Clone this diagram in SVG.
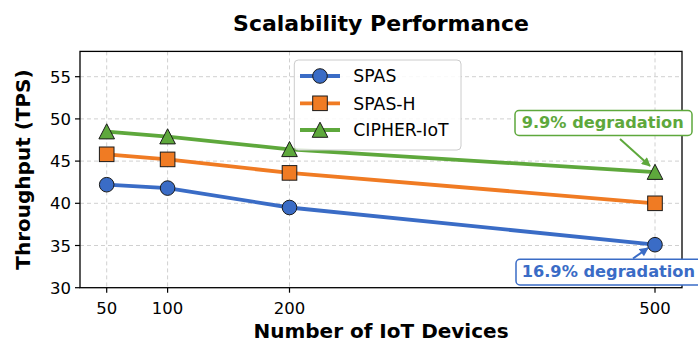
<svg xmlns="http://www.w3.org/2000/svg" width="698" height="344" viewBox="0 0 698 344">
<style>
text{font-family:"DejaVu Sans","Liberation Sans",sans-serif;fill:#000}
.t{font-weight:bold}
.tick{font-size:16.5px}
.grid line{stroke:#d0d0d0;stroke-width:1;stroke-dasharray:4,3}
.spine{fill:none;stroke:#000;stroke-width:1.3}
.tk line{stroke:#000;stroke-width:1.2}
.ln{fill:none;stroke-width:3.8;stroke-linejoin:round;stroke-linecap:round}
.mk{stroke:#1a1a1a;stroke-width:1}
.leg{font-size:17.3px}
.ann{font-size:16.2px;font-weight:bold}
</style>
<defs>
<circle id="mc" r="7.3" class="mk" />
<rect id="ms" x="-7.3" y="-7.3" width="14.6" height="14.6" class="mk"/>
<path id="mt" d="M0,-7.8 L7.8,7.3 L-7.8,7.3 Z" class="mk"/>
<marker id="ag" viewBox="0 0 10 10" refX="9" refY="5" markerWidth="10" markerHeight="9" orient="auto" markerUnits="userSpaceOnUse"><path d="M0,0 L10,5 L0,10 Z" fill="#5ea83c"/></marker>
<marker id="ab" viewBox="0 0 10 10" refX="9" refY="5" markerWidth="10" markerHeight="9" orient="auto" markerUnits="userSpaceOnUse"><path d="M0,0 L10,5 L0,10 Z" fill="#3a6cc6"/></marker>
</defs>
<rect width="698" height="344" fill="#fff"/>
<text class="t" x="381" y="31" font-size="22" text-anchor="middle">Scalability Performance</text>
<g class="grid">
<line x1="80" y1="76.7" x2="682" y2="76.7"/>
<line x1="80" y1="118.9" x2="682" y2="118.9"/>
<line x1="80" y1="161.1" x2="682" y2="161.1"/>
<line x1="80" y1="203.3" x2="682" y2="203.3"/>
<line x1="80" y1="245.5" x2="682" y2="245.5"/>
<line x1="106.7" y1="51.4" x2="106.7" y2="287.7"/>
<line x1="167.6" y1="51.4" x2="167.6" y2="287.7"/>
<line x1="289.5" y1="51.4" x2="289.5" y2="287.7"/>
<line x1="655" y1="51.4" x2="655" y2="287.7"/>
</g>
<rect class="spine" x="80" y="51.4" width="602" height="236.3"/>
<g class="tk">
<line x1="75" y1="76.7" x2="80" y2="76.7"/>
<line x1="75" y1="118.9" x2="80" y2="118.9"/>
<line x1="75" y1="161.1" x2="80" y2="161.1"/>
<line x1="75" y1="203.3" x2="80" y2="203.3"/>
<line x1="75" y1="245.5" x2="80" y2="245.5"/>
<line x1="75" y1="287.7" x2="80" y2="287.7"/>
<line x1="106.7" y1="287.7" x2="106.7" y2="292.7"/>
<line x1="167.6" y1="287.7" x2="167.6" y2="292.7"/>
<line x1="289.5" y1="287.7" x2="289.5" y2="292.7"/>
<line x1="655" y1="287.7" x2="655" y2="292.7"/>
</g>
<g class="tick" text-anchor="end">
<text x="71" y="82.7">55</text>
<text x="71" y="124.9">50</text>
<text x="71" y="167.1">45</text>
<text x="71" y="209.3">40</text>
<text x="71" y="251.5">35</text>
<text x="71" y="293.7">30</text>
</g>
<g class="tick" text-anchor="middle">
<text x="106.7" y="313.5">50</text>
<text x="167.6" y="313.5">100</text>
<text x="289.5" y="313.5">200</text>
<text x="655" y="313.5">500</text>
</g>
<text class="t" x="381" y="338" font-size="20" text-anchor="middle">Number of IoT Devices</text>
<text class="t" font-size="20" text-anchor="middle" transform="translate(29.5,169.5) rotate(-90)">Throughput (TPS)</text>
<g id="connectors">
<polyline id="line-spas" class="ln" stroke="#3a6cc6" points="106.7,184.7 167.6,188.1 289.5,207.5 655,244.7"/>
<polyline id="line-spash" class="ln" stroke="#f07b23" points="106.7,154.3 167.6,159.4 289.5,172.9 655,203.3"/>
<polyline id="line-cipher" class="ln" stroke="#5ea83c" points="106.7,131.6 167.6,136.6 289.5,149.3 655,172.1"/>
<line x1="620" y1="139" x2="650" y2="166" stroke="#5ea83c" stroke-width="2" marker-end="url(#ag)"/>
<line x1="633" y1="258.5" x2="648" y2="248" stroke="#3a6cc6" stroke-width="2" marker-end="url(#ab)"/>
</g>
<g id="spas-points" fill="#3a6cc6">
<use href="#mc" x="106.7" y="184.7"/><use href="#mc" x="167.6" y="188.1"/><use href="#mc" x="289.5" y="207.5"/><use href="#mc" x="655" y="244.7"/>
</g>
<g id="spash-points" fill="#f07b23">
<use href="#ms" x="106.7" y="154.3"/><use href="#ms" x="167.6" y="159.4"/><use href="#ms" x="289.5" y="172.9"/><use href="#ms" x="655" y="203.3"/>
</g>
<g id="cipher-points" fill="#5ea83c">
<use href="#mt" x="106.7" y="131.6"/><use href="#mt" x="167.6" y="136.6"/><use href="#mt" x="289.5" y="149.3"/><use href="#mt" x="655" y="172.1"/>
</g>
<g id="legend">
<rect x="294.3" y="60" width="166.7" height="90" rx="4" fill="#fff" fill-opacity="0.85" stroke="#cccccc" stroke-width="1"/>
<line x1="300" y1="76" x2="340" y2="76" stroke="#3a6cc6" stroke-width="3.8"/>
<use href="#mc" x="320" y="76" fill="#3a6cc6"/>
<line x1="300" y1="103.3" x2="340" y2="103.3" stroke="#f07b23" stroke-width="3.8"/>
<use href="#ms" x="320" y="103.3" fill="#f07b23"/>
<line x1="300" y1="130" x2="340" y2="130" stroke="#5ea83c" stroke-width="3.8"/>
<use href="#mt" x="320" y="130" fill="#5ea83c"/>
<text class="leg" x="353.3" y="82.3">SPAS</text>
<text class="leg" x="353.3" y="109.6">SPAS-H</text>
<text class="leg" x="353.3" y="136.3">CIPHER-IoT</text>
</g>
<g id="annot-green">
<rect x="515" y="110.5" width="177" height="25" rx="4" fill="#fff" stroke="#5ea83c" stroke-width="1.5"/>
<text class="ann" x="521.7" y="128.3" style="fill:#5ea83c">9.9% degradation</text>
</g>
<g id="annot-blue">
<rect x="516" y="259.3" width="190" height="25.7" rx="4" fill="#fff" stroke="#3a6cc6" stroke-width="1.5"/>
<text class="ann" x="521.7" y="277" style="fill:#3a6cc6">16.9% degradation</text>
</g>
</svg>
